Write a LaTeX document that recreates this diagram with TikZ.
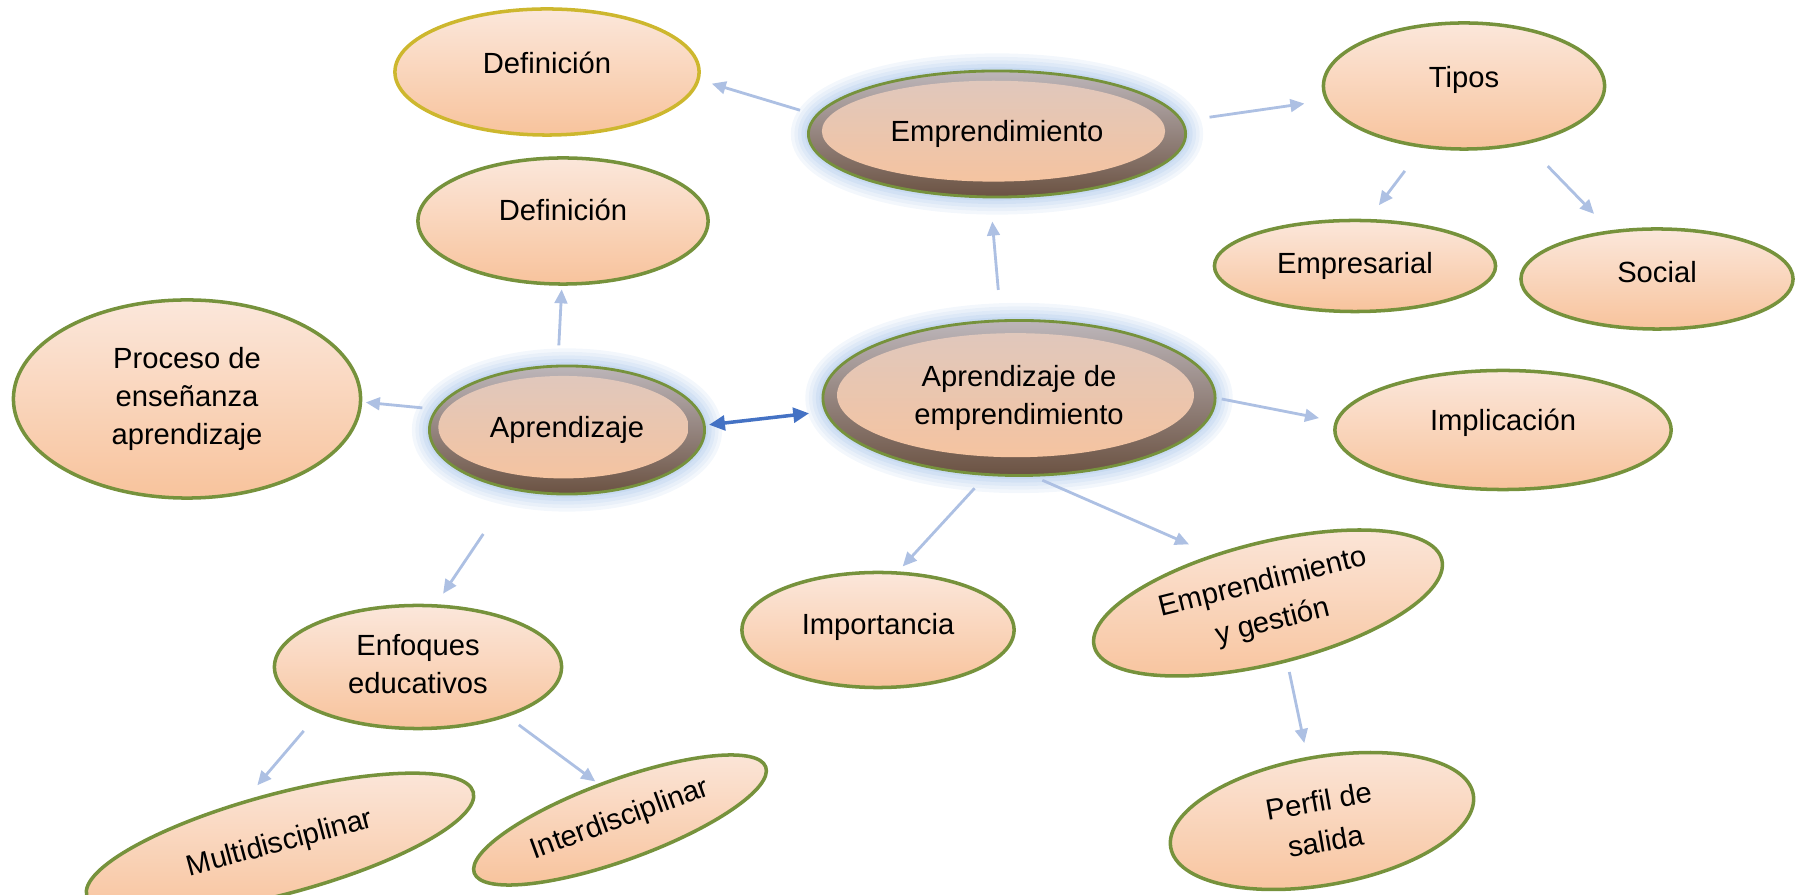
\documentclass[tikz,border=0pt]{standalone}
\usepackage{fontspec}
\setmainfont{Liberation Sans}
\usetikzlibrary{arrows.meta, shapes.geometric, calc}

\definecolor{peachtop}{HTML}{FBE7DB}
\definecolor{peachbot}{HTML}{F8C39C}
\definecolor{coretop}{HTML}{DEC8BF}
\definecolor{olivebrd}{HTML}{76923C}
\definecolor{goldbrd}{HTML}{CDB72E}
\definecolor{rimtop}{HTML}{BDB6BA}
\definecolor{rimbot}{HTML}{6B5242}
\definecolor{glowblue}{HTML}{8DB3E2}
\definecolor{linkblue}{HTML}{ADC0E3}
\definecolor{darkblue}{HTML}{4472C4}

\begin{document}
\begin{tikzpicture}[
    x=0.01cm, y=-0.01cm,
    concept/.style={ellipse, draw=olivebrd, line width=1pt, top color=peachtop, bottom color=peachbot, inner sep=1pt, align=center, font=\fontsize{8.3}{10.8}\selectfont},
    lift/.style={text depth=#1},
    core/.style={concept, top color=rimtop, bottom color=rimbot, line width=0.8pt,
        preaction={draw=glowblue, line width=10pt, opacity=0.1},
        preaction={draw=glowblue, line width=8pt, opacity=0.1},
        preaction={draw=glowblue, line width=6pt, opacity=0.12},
        preaction={draw=glowblue, line width=4pt, opacity=0.14},
        preaction={draw=glowblue, line width=2pt, opacity=0.16},
        path picture={\shade[top color=coretop, bottom color=peachbot] let \p1=(path picture bounding box.north east), \p2=(path picture bounding box.center) in ([xshift=-1pt, yshift=0.8pt]\p2) ellipse ({0.91*(\x1-\x2)} and {0.8*(\y1-\y2)});}},
    arr/.style={-{Triangle[length=4pt, width=3.6pt]}, line width=0.8pt, draw=linkblue, fill=linkblue},
    both/.style={{Triangle[length=4.5pt, width=4.2pt]}-{Triangle[length=4.5pt, width=4.2pt]}, line width=1pt, draw=darkblue, fill=darkblue}
]
    \useasboundingbox (0,0) rectangle (1797,895);

    % central nodes
    \node[core, minimum width=3.77cm, minimum height=1.26cm] (emp) at (997,134) {Emprendimiento};
    \node[core, minimum width=2.75cm, minimum height=1.28cm] (apr) at (567,430) {Aprendizaje};
    \node[core, minimum width=3.92cm, minimum height=1.55cm] (apremp) at (1019,398) {Aprendizaje de\\emprendimiento};

    % outer nodes
    \node[concept, draw=goldbrd, lift=5pt, minimum width=3.04cm, minimum height=1.26cm] (def1) at (547,72) {Definición};
    \node[concept, lift=5.4pt, minimum width=2.81cm, minimum height=1.26cm] (tipos) at (1464,86) {Tipos};
    \node[concept, lift=6.2pt, minimum width=2.9cm, minimum height=1.26cm] (def2) at (563,221) {Definición};
    \node[concept, minimum width=2.81cm, minimum height=0.91cm] (empres) at (1355,266) {Empresarial};
    \node[concept, lift=4pt, minimum width=2.72cm, minimum height=1.0cm] (social) at (1657,279) {Social};
    \node[concept, minimum width=3.47cm, minimum height=1.98cm] (proceso) at (187,399) {Proceso de\\enseñanza\\aprendizaje};
    \node[concept, lift=6pt, minimum width=3.36cm, minimum height=1.19cm] (impl) at (1503,430) {Implicación};
    \node[concept, lift=3.4pt, minimum width=2.72cm, minimum height=1.15cm] (import) at (878,630) {Importancia};
    \node[concept, rotate=14, font=\fontsize{8.3}{11.5}\selectfont, minimum width=3.58cm, minimum height=1.21cm] (empgest) at (1268,603) {Emprendimiento\\y gestión};
    \node[concept, rotate=10, font=\fontsize{8.3}{11.5}\selectfont, minimum width=3.07cm, minimum height=1.28cm] (perfil) at (1322,821) {Perfil de\\salida};
    \node[concept, lift=2pt, minimum width=2.87cm, minimum height=1.23cm] (enfoques) at (418,667) {Enfoques\\educativos};
    \node[concept, rotate=15, minimum width=4.0cm, minimum height=1.0cm] (multi) at (280,844) {Multidisciplinar};
    \node[concept, rotate=20, minimum width=3.1cm, minimum height=0.8cm] (inter) at (620,820) {Interdisciplinar};

    % connectors
    \draw[arr, shorten <=4.6pt, shorten >=3.6pt] (emp.174) -- (def1.-3);
    \draw[arr, shorten <=7.6pt, shorten >=6pt] (emp.4) -- (tipos.186);
    \draw[arr, shorten <=8.2pt, shorten >=4.9pt] (tipos.-124) -- (empres.74);
    \draw[arr, shorten <=8.7pt, shorten >=6.5pt] (tipos.-43) -- (social.134);
    \draw[arr, shorten <=8.4pt, shorten >=6.6pt] (apremp.103) -- (emp.-96);
    \draw[arr, shorten <=5.5pt, shorten >=1pt] (apr.98) -- (def2.-91);
    \draw[arr, shorten <=3.7pt, shorten >=1pt] (apr.171) -- (proceso.-1);
    \draw[both, shorten <=1pt, shorten >=4.4pt] (apr.2) -- (apremp.184);
    \draw[arr, shorten <=1.5pt, shorten >=4.6pt] (apremp.0) -- (impl.177);
    \draw[arr, shorten <=4.8pt, shorten >=1.9pt] (apremp.-113) -- (import.71);
    \draw[arr, shorten <=2.5pt, shorten >=7.2pt] (apremp.-79) -- (empgest.125);
    \draw[arr, shorten <=15pt, shorten >=3.6pt] (apr.-132) -- (enfoques.74);
    \draw[arr, shorten <=6.6pt, shorten >=5.6pt] (enfoques.-155) -- (multi.114);
    \draw[arr, shorten <=3.9pt, shorten >=1pt] (enfoques.-29) -- (inter.101);
    \draw[arr, shorten <=2.8pt, shorten >=4pt] (empgest.-86) -- (perfil.93);
\end{tikzpicture}
\end{document}
